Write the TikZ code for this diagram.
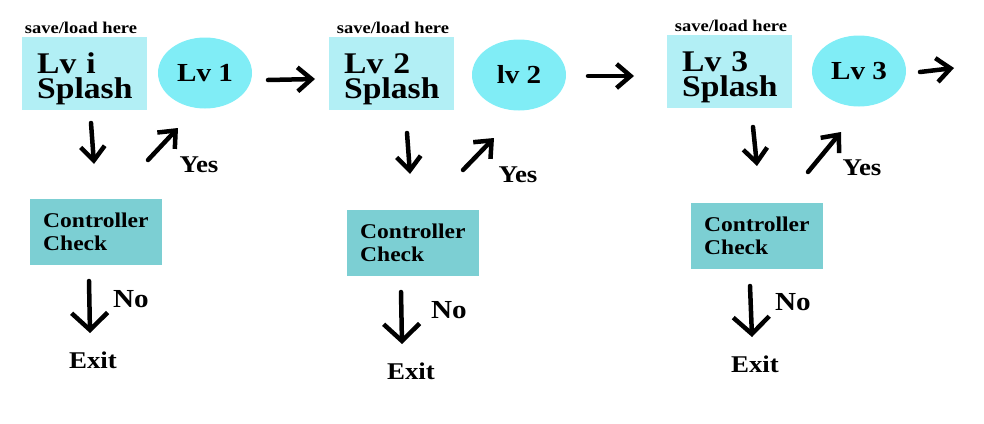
\documentclass[tikz,border=0pt]{standalone}
\usepackage{fontspec}
\setmainfont{Liberation Serif}[FakeStretch=1.12]
\usetikzlibrary{arrows.meta,shapes.geometric}
\definecolor{splashcyan}{HTML}{B2EFF5}
\definecolor{levelcyan}{HTML}{80EDF6}
\definecolor{checkteal}{HTML}{7CCFD3}
\begin{document}
\begin{tikzpicture}%
	[x=1pt, y=-1pt,
	splashbox/.style={rectangle, fill=splashcyan, anchor=north west, inner xsep=15pt, inner ysep=0pt, text width=95pt, minimum height=73pt, align=left, font=\bfseries\fontsize{30}{25}\selectfont, execute at begin node=\rule{0pt}{31pt}},
	levelblob/.style={ellipse, fill=levelcyan, inner sep=0pt, minimum width=94pt, minimum height=71pt, font=\bfseries\fontsize{26}{26}\selectfont},
	checkbox/.style={rectangle, fill=checkteal, anchor=north west, inner xsep=13pt, inner ysep=0pt, text width=106pt, minimum height=66pt, align=left, font=\bfseries\fontsize{21}{23}\selectfont},
	savenote/.style={inner sep=0pt, font=\bfseries\fontsize{16.5}{16.5}\selectfont},
	answer/.style={inner sep=0pt, font=\bfseries\fontsize{24}{24}\selectfont},
	handarrow/.style={line width=4.5pt, line cap=round, line join=round, -{Straight Barb[length=14pt, width=24pt]}},
	hookarrow/.style={line width=4.5pt, line cap=round, line join=round, -{Straight Barb[length=17pt, width=36pt]}}]
%
%% Ends of the hand drawn arrows
%%
\coordinate (down1 tail) at (91,123);
\coordinate (down1 tip) at (94,164);
\coordinate (up1 tail) at (148,160);
\coordinate (up1 tip) at (178,128);
\coordinate (next1 tail) at (268,80);
\coordinate (next1 tip) at (315,79);
\coordinate (no1 tail) at (89,281);
\coordinate (no1 tip) at (90,333);
%
\coordinate (down2 tail) at (407,133);
\coordinate (down2 tip) at (410,174);
\coordinate (up2 tail) at (463,170);
\coordinate (up2 tip) at (494,138);
\coordinate (next2 tail) at (588,76);
\coordinate (next2 tip) at (634,76);
\coordinate (no2 tail) at (401,292);
\coordinate (no2 tip) at (402,344);
%
\coordinate (down3 tail) at (753,127);
\coordinate (down3 tip) at (757,166);
\coordinate (up3 tail) at (808,172);
\coordinate (up3 tip) at (841,132);
\coordinate (next3 tail) at (920,72);
\coordinate (next3 tip) at (954,68);
\coordinate (no3 tail) at (750,286);
\coordinate (no3 tip) at (752,337);
%%
%% Level one
%%
\node[savenote] (save1) at (81,28) {save/load here};
\node[splashbox] (splash1) at (22,37) {Lv i\\Splash};
\node[levelblob] (level1) at (205,73) {Lv 1};
\node[checkbox] (check1) at (30,199) {Controller\\Check};
\node[answer] (yes1) at (199,165) {Yes};
\node[answer, font=\bfseries\fontsize{26}{26}\selectfont] (no1) at (131,299) {No};
\node[answer] (exit1) at (93,360) {Exit};
%%
%% Level two
%%
\node[savenote] (save2) at (393,28) {save/load here};
\node[splashbox] (splash2) at (329,37) {Lv 2\\Splash};
\node[levelblob] (level2) at (519,75) {lv 2};
\node[checkbox] (check2) at (347,210) {Controller\\Check};
\node[answer] (yes2) at (518,175) {Yes};
\node[answer, font=\bfseries\fontsize{26}{26}\selectfont] (no2) at (449,310) {No};
\node[answer] (exit2) at (411,371) {Exit};
%%
%% Level three
%%
\node[savenote] (save3) at (731,26) {save/load here};
\node[splashbox] (splash3) at (667,35) {Lv 3\\Splash};
\node[levelblob] (level3) at (859,71) {Lv 3};
\node[checkbox] (check3) at (691,203) {Controller\\Check};
\node[answer] (yes3) at (862,168) {Yes};
\node[answer, font=\bfseries\fontsize{26}{26}\selectfont] (no3) at (793,302) {No};
\node[answer] (exit3) at (755,364) {Exit};
%%
%% Arrows
%%
\draw[handarrow] (down1 tail) -- (down1 tip);
\draw[handarrow] (up1 tail) -- (up1 tip);
\draw[handarrow] (next1 tail) -- (next1 tip);
\draw[hookarrow] (no1 tail) -- (no1 tip);
\draw[handarrow] (down2 tail) -- (down2 tip);
\draw[handarrow] (up2 tail) -- (up2 tip);
\draw[handarrow] (next2 tail) -- (next2 tip);
\draw[hookarrow] (no2 tail) -- (no2 tip);
\draw[handarrow] (down3 tail) -- (down3 tip);
\draw[handarrow] (up3 tail) -- (up3 tip);
\draw[handarrow] (next3 tail) -- (next3 tip);
\draw[hookarrow] (no3 tail) -- (no3 tip);
%%
\useasboundingbox (0,0) rectangle (984,423);
\end{tikzpicture}
\end{document}
